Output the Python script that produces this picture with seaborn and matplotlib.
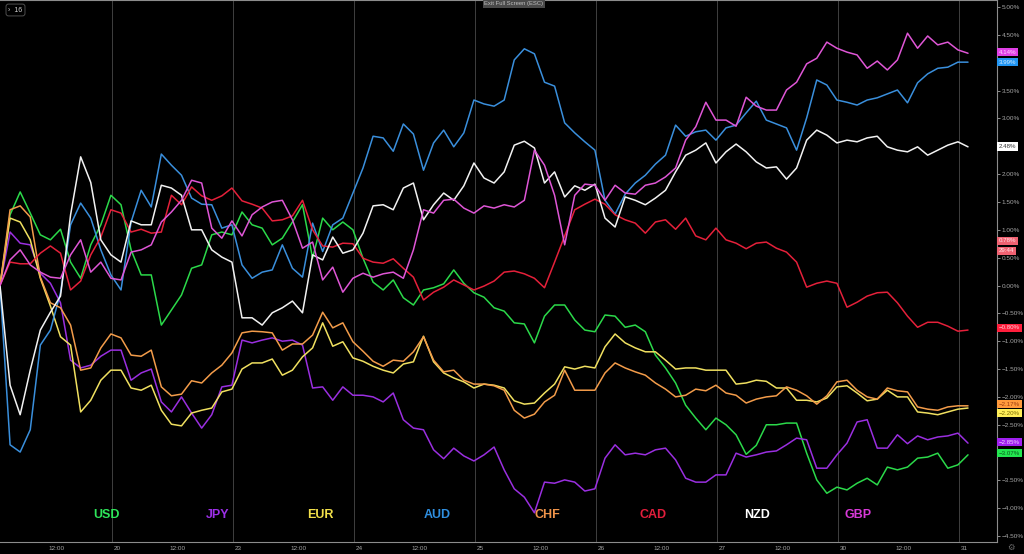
import numpy as np
import pandas as pd
import matplotlib
matplotlib.use("Agg")
import matplotlib.pyplot as plt
import seaborn as sns
from matplotlib.transforms import blended_transform_factory

# ---------------- data ----------------
currencies = ["USD", "JPY", "EUR", "AUD", "CHF", "CAD", "NZD", "GBP"]
day_labels = ["20", "23", "24", "25", "26", "27", "30", "31"]

usd = [0.00, 1.27, 1.68, 1.30, 0.91, 0.82, 1.01, 0.42, 0.13, 0.73,
       1.09, 1.62, 1.45, 0.64, 0.19, 0.19, -0.71, -0.44, -0.17, 0.31,
       0.37, 0.91, 0.96, 0.91, 1.32, 1.09, 1.03, 0.73, 0.85, 1.14,
       1.45, 0.49, 1.21, 1.00, 1.14, 1.00, 0.49, 0.06, -0.08, 0.10,
       -0.22, -0.35, -0.08, -0.04, 0.03, 0.28, 0.04, -0.13, -0.21, -0.40,
       -0.46, -0.67, -0.69, -1.03, -0.55, -0.35, -0.35, -0.62, -0.80, -0.83,
       -0.53, -0.55, -0.75, -0.71, -0.83, -1.25, -1.48, -1.75, -2.15, -2.38,
       -2.59, -2.38, -2.50, -2.68, -3.03, -2.87, -2.50, -2.50, -2.47, -2.47,
       -3.01, -3.49, -3.73, -3.62, -3.67, -3.55, -3.46, -3.58, -3.26, -3.31,
       -3.26, -3.10, -3.08, -3.01, -3.28, -3.22, -3.04]

jpy = [0.00, 0.96, 0.76, 0.73, 0.22, 0.04, -0.31, -1.34, -1.48, -1.43,
       -1.27, -1.16, -1.16, -1.70, -1.57, -1.50, -2.09, -2.27, -2.00, -2.29,
       -2.56, -2.32, -1.82, -1.79, -0.98, -1.03, -0.98, -0.94, -1.00, -0.98,
       -1.07, -1.84, -1.82, -2.06, -1.82, -1.97, -1.97, -2.00, -2.09, -1.93,
       -2.41, -2.56, -2.59, -2.95, -3.11, -2.92, -3.06, -3.15, -3.04, -2.90,
       -3.31, -3.65, -3.80, -4.08, -3.53, -3.55, -3.49, -3.53, -3.69, -3.65,
       -3.10, -2.86, -3.04, -3.01, -3.04, -2.95, -2.92, -3.13, -3.46, -3.53,
       -3.53, -3.40, -3.40, -3.01, -3.08, -3.04, -2.99, -2.97, -2.86, -2.74,
       -2.77, -3.28, -3.28, -3.04, -2.83, -2.45, -2.41, -2.92, -2.92, -2.68,
       -2.84, -2.70, -2.77, -2.72, -2.70, -2.65, -2.83]

eur = [0.00, 1.21, 1.14, 0.82, 0.13, -0.37, -0.92, -1.07, -2.27, -2.06,
       -1.70, -1.52, -1.52, -1.84, -1.88, -1.79, -2.24, -2.49, -2.52, -2.29,
       -2.24, -2.20, -1.91, -1.86, -1.50, -1.39, -1.39, -1.32, -1.61, -1.52,
       -1.28, -1.12, -0.67, -1.09, -1.01, -1.30, -1.36, -1.45, -1.52, -1.57,
       -1.41, -1.37, -0.91, -1.37, -1.57, -1.66, -1.73, -1.84, -1.77, -1.79,
       -1.84, -2.07, -2.13, -2.11, -1.93, -1.77, -1.46, -1.50, -1.45, -1.48,
       -1.10, -0.87, -1.03, -1.12, -1.19, -1.19, -1.34, -1.50, -1.48, -1.48,
       -1.52, -1.52, -1.52, -1.77, -1.75, -1.70, -1.72, -1.84, -1.84, -2.06,
       -2.06, -2.09, -2.02, -1.82, -1.80, -1.93, -2.07, -2.04, -1.88, -2.00,
       -2.00, -2.27, -2.29, -2.32, -2.27, -2.22, -2.20]

aud = [0.00, -2.86, -2.99, -2.59, -1.07, -0.80, -0.13, 1.09, 1.48, 1.21,
       0.64, 0.19, -0.08, 1.14, 1.71, 1.41, 2.36, 2.16, 1.98, 1.57,
       1.46, 1.45, 1.03, 1.09, 0.37, 0.13, 0.24, 0.28, 0.73, 0.31,
       0.15, 1.12, 0.61, 1.09, 1.21, 1.66, 2.11, 2.68, 2.65, 2.41,
       2.90, 2.72, 2.07, 2.56, 2.79, 2.49, 2.74, 3.33, 3.26, 3.22,
       3.33, 4.05, 4.25, 4.16, 3.65, 3.58, 2.92, 2.74, 2.58, 2.43,
       1.53, 1.28, 1.64, 1.84, 1.98, 2.18, 2.34, 2.88, 2.68, 2.76,
       2.79, 2.61, 2.83, 2.88, 3.10, 3.31, 2.97, 2.90, 2.83, 2.43,
       3.01, 3.69, 3.60, 3.33, 3.29, 3.24, 3.33, 3.37, 3.44, 3.51,
       3.28, 3.64, 3.80, 3.90, 3.92, 4.01, 4.01]

chf = [0.00, 1.36, 1.43, 1.23, 0.15, -0.31, -0.40, -0.71, -1.52, -1.48,
       -1.12, -0.87, -0.94, -1.25, -1.27, -1.16, -1.82, -1.98, -1.95, -1.71,
       -1.75, -1.57, -1.43, -1.21, -0.85, -0.82, -0.83, -0.85, -1.16, -1.05,
       -1.05, -0.89, -0.48, -0.76, -0.67, -1.01, -1.18, -1.36, -1.45, -1.34,
       -1.36, -1.19, -0.92, -1.34, -1.55, -1.52, -1.70, -1.77, -1.77, -1.80,
       -1.88, -2.24, -2.38, -2.31, -2.09, -1.97, -1.52, -1.88, -1.88, -1.88,
       -1.57, -1.39, -1.48, -1.55, -1.61, -1.75, -1.86, -2.00, -1.97, -1.86,
       -1.89, -1.79, -1.93, -1.97, -2.11, -2.04, -2.00, -1.98, -1.82, -1.88,
       -1.98, -2.13, -1.98, -1.73, -1.70, -1.88, -2.00, -2.04, -1.84, -1.89,
       -1.91, -2.18, -2.22, -2.24, -2.18, -2.16, -2.16]

cad = [0.00, 0.42, 0.39, 0.39, 0.58, 0.71, 0.58, -0.08, 0.08, 0.55,
       0.87, 1.36, 1.30, 0.96, 1.01, 0.94, 0.96, 1.62, 1.45, 1.77,
       1.61, 1.53, 1.61, 1.75, 1.52, 1.46, 1.39, 1.16, 1.18, 1.25,
       1.53, 1.00, 0.71, 0.69, 0.76, 0.75, 0.49, 0.42, 0.40, 0.48,
       0.31, 0.15, -0.26, -0.12, -0.03, 0.10, 0.01, -0.08, -0.01, 0.08,
       0.24, 0.26, 0.21, 0.13, -0.04, 0.42, 0.89, 1.36, 1.46, 1.55,
       1.46, 1.27, 1.18, 1.12, 0.94, 1.14, 1.18, 1.01, 1.21, 0.89,
       0.82, 1.03, 0.82, 0.76, 0.66, 0.76, 0.78, 0.67, 0.60, 0.42,
       -0.03, 0.04, 0.08, 0.04, -0.39, -0.30, -0.19, -0.13, -0.12, -0.31,
       -0.55, -0.75, -0.66, -0.66, -0.73, -0.82, -0.80]

nzd = [0.00, -1.79, -2.32, -1.52, -0.80, -0.48, -0.19, 1.27, 2.31, 1.85,
       0.82, 0.55, 0.42, 1.16, 1.09, 1.09, 1.80, 1.75, 1.62, 1.00,
       1.00, 0.64, 0.51, 0.42, -0.58, -0.58, -0.71, -0.49, -0.40, -0.28,
       -0.49, 0.55, 0.46, 0.87, 0.58, 0.64, 0.94, 1.43, 1.45, 1.36,
       1.75, 1.84, 1.18, 1.45, 1.66, 1.53, 1.79, 2.20, 1.93, 1.84,
       2.04, 2.52, 2.59, 2.47, 1.84, 2.04, 1.59, 1.79, 1.71, 1.82,
       1.21, 1.05, 1.59, 1.53, 1.45, 1.57, 1.71, 2.04, 2.34, 2.43,
       2.56, 2.20, 2.40, 2.54, 2.40, 2.22, 2.11, 2.13, 1.91, 2.11,
       2.61, 2.79, 2.70, 2.56, 2.61, 2.58, 2.65, 2.68, 2.49, 2.43,
       2.40, 2.49, 2.34, 2.43, 2.52, 2.58, 2.49]

gbp = [0.00, 0.46, 0.64, 0.37, 0.24, 0.15, 0.13, 0.55, 0.82, 0.24,
       0.42, 0.13, 0.10, 0.60, 0.64, 0.73, 1.14, 1.32, 1.53, 1.89,
       1.84, 1.03, 0.85, 1.16, 0.89, 1.27, 1.41, 1.50, 1.53, 1.18,
       0.67, 0.78, 0.10, 0.33, -0.12, 0.13, 0.22, 0.15, 0.21, 0.24,
       0.13, 0.64, 1.36, 1.30, 1.53, 1.55, 1.39, 1.30, 1.43, 1.39,
       1.45, 1.41, 1.53, 2.43, 2.16, 1.62, 0.73, 1.62, 1.82, 1.80,
       1.53, 1.80, 1.66, 1.64, 1.80, 1.84, 1.95, 2.11, 2.61, 2.85,
       3.29, 2.97, 2.97, 2.86, 3.38, 3.22, 3.15, 3.15, 3.51, 3.65,
       3.98, 4.08, 4.37, 4.26, 4.19, 4.14, 3.90, 4.03, 3.87, 4.05,
       4.53, 4.26, 4.48, 4.32, 4.37, 4.23, 4.17]

series = {"USD": usd, "JPY": jpy, "EUR": eur, "AUD": aud,
          "CHF": chf, "CAD": cad, "NZD": nzd, "GBP": gbp}

# last-value tags on the price scale
tag_texts = ["4.14%", "3.99%", "2.48%", "0.78%", "29:44",
             "\u22120.80%", "\u22122.17%", "\u22122.20%", "\u22122.85%", "\u22123.07%"]
# price-scale levels hidden behind the tags in the reference
hidden_levels = [4.0, 2.5, -3.0]

# ---------------- styling / layout ----------------
line_colors = {"USD": "#2bd94a", "JPY": "#9a2fe0", "EUR": "#f0e060", "AUD": "#3a8fdc",
               "CHF": "#f39c4a", "CAD": "#e5203a", "NZD": "#f2f2f2", "GBP": "#df56d6"}
label_colors = {"USD": "#2ee65a", "JPY": "#9d2fe8", "EUR": "#f2e04a", "AUD": "#2f8fe0",
                "CHF": "#f0944a", "CAD": "#e31e3c", "NZD": "#ffffff", "GBP": "#d83ad8"}
label_x = [23.0, 45.0, 65.3, 88.5, 110.3, 131.3, 152.0, 172.0]
label_y = -4.12

tag_y = [4.19, 4.01, 2.49, 0.80, 0.62, -0.76, -2.13, -2.29, -2.81, -3.01]
tag_face = ["#e040e6", "#2196f3", "#ffffff", "#f06272", "#f06272",
            "#ff1e3c", "#ff9a3c", "#ffee58", "#a020f0", "#22e650"]
tag_text_color = ["#ffd8ff", "#d8ecff", "#333333", "#ffe0e4", "#ffe0e4",
                  "#ffd0d8", "#9a3a10", "#7a6a00", "#f0d8ff", "#0b5a1e"]

START_HOUR = 1.8      # first bar, hours after midnight of the 19th
STEP_HOURS = 2.0
n = len(usd)
times = START_HOUR + STEP_HOURS * np.arange(n)

df = pd.DataFrame({"time": np.tile(times, len(currencies)),
                   "currency": np.repeat(currencies, n),
                   "change": np.concatenate([series[c] for c in currencies])})

sns.set_theme(style="dark")
plt.rcParams["font.family"] = ["Liberation Sans", "DejaVu Sans"]

W, H = 1024, 554
fig = plt.figure(figsize=(W / 100, H / 100), dpi=100, facecolor="black")
ax = fig.add_axes([0, 12 / H, 997 / W, 542 / H])
ax.set_facecolor("black")

sns.lineplot(data=df, x="time", y="change", hue="currency", hue_order=currencies,
             palette=line_colors, linewidth=1.1, legend=False, ax=ax,
             estimator=None, sort=False)

ax.set_xlim(START_HOUR, START_HOUR + 997 / (121 / 24))
ax.set_ylim(-4.605, 5.126)

# day separators
for j in range(1, len(day_labels) + 1):
    ax.axvline(24 * j, color="#4a4a4a", linewidth=0.6, zorder=0)

xt, xl = [], []
for j, d in enumerate(day_labels, start=1):
    xt += [24 * j - 11, 24 * j + 1]
    xl += ["12:00", d]
ax.set_xticks(xt)
ax.set_xticklabels(xl)

yt = np.arange(-4.5, 5.01, 0.5)
ax.set_yticks(yt)
ax.set_yticklabels(["" if any(abs(v - h) < 1e-6 for h in hidden_levels)
                    else (f"{v:.2f}%").replace("-", "\u2212") for v in yt])
ax.yaxis.tick_right()

ax.tick_params(axis="y", colors="#a6a6a6", labelsize=4.6, length=2, width=0.6, pad=1.5,
               right=True, left=False, labelright=True, labelleft=False)
ax.tick_params(axis="x", colors="#a6a6a6", labelsize=4.6, length=1.5, width=0.6, pad=1.5)
ax.set_xlabel("")
ax.set_ylabel("")
ax.grid(False)

for side in ["right", "bottom", "top"]:
    ax.spines[side].set_visible(True)
    ax.spines[side].set_color("#8c8c8c")
    ax.spines[side].set_linewidth(0.8)
ax.spines["left"].set_visible(False)

# currency names
for c, x in zip(currencies, label_x):
    ax.text(x, label_y, c, color=label_colors[c], fontsize=9, fontweight="bold",
            ha="center", va="center")

# value tags on the right scale
tr = blended_transform_factory(ax.transAxes, ax.transData)
for t, y, fc, tc in zip(tag_texts, tag_y, tag_face, tag_text_color):
    ax.text(1.002, y, t, transform=tr, fontsize=4.4, color=tc, ha="left", va="center",
            clip_on=False, zorder=10,
            bbox=dict(boxstyle="square,pad=0.3", facecolor=fc, edgecolor="none"))

# chrome of the screenshot
fig.text(15.5 / W, 1 - 10 / H, "\u203a  16", fontsize=5, color="#d0d0d0", ha="center",
         va="center", bbox=dict(boxstyle="round,pad=0.35", facecolor="black",
                                edgecolor="#5a5a5a", linewidth=0.6))
fig.text(514 / W, 1 - 4 / H, "Exit Full Screen (ESC)", fontsize=4.2, color="#c0c0c0",
         ha="center", va="center",
         bbox=dict(boxstyle="square,pad=0.25", facecolor="#4a4a4a", edgecolor="none"))
fig.text(1011 / W, 7 / H, "\u2699", fontsize=6, color="#6a6a6a", ha="center", va="center",
         family=["DejaVu Sans"])

fig.savefig("out.png", dpi=100, facecolor="black")
